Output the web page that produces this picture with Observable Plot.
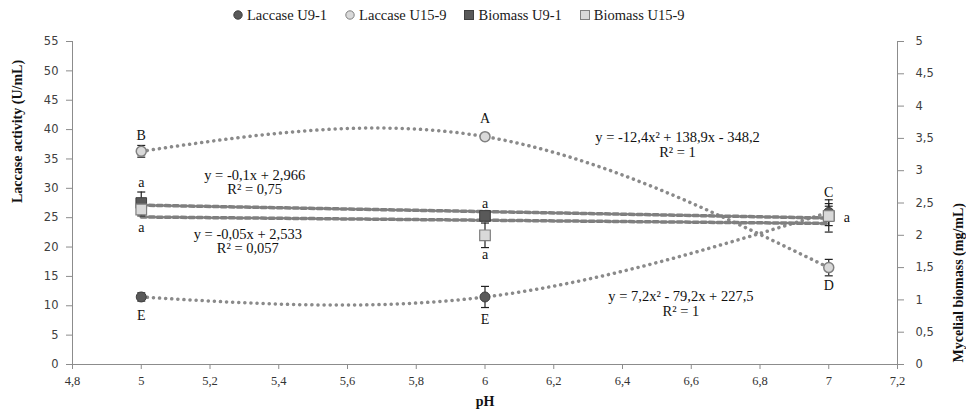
<!DOCTYPE html>
<html>
<head>
<meta charset="utf-8">
<script src="https://cdn.jsdelivr.net/npm/d3@7"></script>
<script src="https://cdn.jsdelivr.net/npm/@observablehq/plot@0.6"></script>
<style>
  html, body { margin: 0; padding: 0; background: #fff; }
  #legend { height: 30px; display: flex; align-items: center; padding-left: 232px; gap: 17px;
    font-family: "Liberation Serif", serif; font-size: 14.5px; color: #1a1a1a; }
  #legend .item { display: flex; align-items: center; gap: 3px; }
  #chart svg { display: block; }
</style>
</head>
<body>
<div id="legend"></div>
<div id="chart"></div>
<script>
// ---- data ----
const pH = [5, 6, 7];
const laccaseU9 = [11.5, 11.5, 25.9];
const laccaseU9Err = [0.7, 1.8, 1.5];
const laccaseU15 = [36.3, 38.8, 16.5];
const laccaseU15Err = [1.0, 0.5, 1.4];
const biomassU9 = [2.5, 2.3, 2.3];
const biomassU9Err = [0.17, 0.05, 0.15];
const biomassU15 = [2.4, 2.0, 2.3];
const biomassU15Err = [0.1, 0.19, 0.25];

const seriesNames = ["Laccase U9-1", "Laccase U15-9", "Biomass U9-1", "Biomass U15-9"];
const xTicks = [4.8, 5, 5.2, 5.4, 5.6, 5.8, 6, 6.2, 6.4, 6.6, 6.8, 7, 7.2];
const leftTicks = [0, 5, 10, 15, 20, 25, 30, 35, 40, 45, 50, 55];
const rightTicks = [0, 0.5, 1, 1.5, 2, 2.5, 3, 3.5, 4, 4.5, 5];

const equations = [
  "y = -12,4x² + 138,9x - 348,2\nR² = 1",
  "y = -0,1x + 2,966\nR² = 0,75",
  "y = -0,05x + 2,533\nR² = 0,057",
  "y = 7,2x² - 79,2x + 227,5\nR² = 1"
];
const letters = ["B", "A", "D", "C", "E", "E", "a", "a", "a", "a", "a"];

// ---- helpers ----
const ratio = 55 / 5; // right axis (biomass) -> left axis units
const comma = v => String(Math.round(v * 100) / 100).replace(".", ",");

const colors = { dark: "#595959", darkStroke: "#3f3f3f", light: "#d9d9d9", lightStroke: "#808080" };

const lacU9 = pH.map((x, i) => ({ x, y: laccaseU9[i], e: laccaseU9Err[i] }));
const lacU15 = pH.map((x, i) => ({ x, y: laccaseU15[i], e: laccaseU15Err[i] }));
const bioU9 = pH.map((x, i) => ({ x, y: biomassU9[i] * ratio, e: biomassU9Err[i] * ratio }));
const bioU15 = pH.map((x, i) => ({ x, y: biomassU15[i] * ratio, e: biomassU15Err[i] * ratio }));
const allErr = [...bioU9, ...bioU15, ...lacU9, ...lacU15];

const eqAnn = [
  { t: equations[0], x: 6.56, y: 37.4 },
  { t: equations[1], x: 5.33, y: 31.0 },
  { t: equations[2], x: 5.31, y: 20.9 },
  { t: equations[3], x: 6.57, y: 10.3 }
];
const letAnn = [
  { t: letters[0], d: lacU15[0], dx: 0, dy: -16 },
  { t: letters[1], d: lacU15[1], dx: 0, dy: -18 },
  { t: letters[2], d: lacU15[2], dx: 0, dy: 18 },
  { t: letters[3], d: lacU9[2], dx: 0, dy: -20 },
  { t: letters[4], d: lacU9[0], dx: 0, dy: 19 },
  { t: letters[5], d: lacU9[1], dx: 0, dy: 23 },
  { t: letters[6], d: bioU9[0], dx: 0, dy: -20 },
  { t: letters[7], d: bioU15[0], dx: 0, dy: 18 },
  { t: letters[8], d: bioU9[1], dx: 0, dy: -12 },
  { t: letters[9], d: bioU15[1], dx: 0, dy: 19 },
  { t: letters[10], d: bioU15[2], dx: 18, dy: 2 }
];

const cap = { draw(ctx) { ctx.moveTo(-4, 0); ctx.lineTo(4, 0); } };
const serif = "Liberation Serif";

const dotted = { stroke: "#8a8a8a", strokeWidth: 3.5, strokeDasharray: "0.1 6", strokeLinecap: "round", curve: "natural" };
const dashed = { stroke: "#7f7f7f", strokeWidth: 3.5, strokeDasharray: "5 3" };

const letterMarks = letAnn.map(a =>
  Plot.text([a], { x: d => d.d.x, y: d => d.d.y, text: "t", dx: a.dx, dy: a.dy, fontSize: 14, fontFamily: serif, fill: "#111" })
);

const chart = Plot.plot({
  width: 966, height: 384,
  marginLeft: 72, marginRight: 69, marginTop: 11, marginBottom: 50,
  x: { domain: [4.8, 7.2] },
  y: { domain: [0, 55] },
  style: { fontFamily: serif, background: "#fff", overflow: "visible" },
  marks: [
    Plot.ruleY([0], { stroke: "#8c8c8c" }),
    Plot.ruleX([4.8], { stroke: "#8c8c8c" }),
    Plot.ruleX([7.2], { stroke: "#8c8c8c" }),
    Plot.axisX(xTicks, { tickSize: 5, tickPadding: 7, fontSize: 12.5, fontFamily: serif, stroke: "#8c8c8c", fill: "#333", tickFormat: comma, label: null }),
    Plot.axisY(leftTicks, { anchor: "left", tickSize: 6, tickPadding: 8, fontSize: 11.5, fontFamily: "DejaVu Sans", stroke: "#8c8c8c", fill: "#404040", tickFormat: comma, label: null }),
    Plot.axisY(rightTicks.map(v => v * ratio), { anchor: "right", tickSize: 6, tickPadding: 12, fontSize: 11.5, fontFamily: "DejaVu Sans", stroke: "#8c8c8c", fill: "#404040", tickFormat: d => comma(d / ratio), label: null }),
    Plot.text(["Laccase activity (U/mL)"], { frameAnchor: "left", dx: -55, rotate: -90, fontSize: 14, fontWeight: "bold", fontFamily: serif, fill: "#111" }),
    Plot.text(["Mycelial biomass (mg/mL)"], { frameAnchor: "right", dx: 61, rotate: -90, fontSize: 14, fontWeight: "bold", fontFamily: serif, fill: "#111" }),
    Plot.text(["pH"], { frameAnchor: "bottom", dy: 41, fontSize: 14, fontWeight: "bold", fontFamily: serif, fill: "#111" }),

    // trend curves
    Plot.line(lacU15, { x: "x", y: "y", ...dotted }),
    Plot.line(lacU9, { x: "x", y: "y", ...dotted }),
    Plot.linearRegressionY(bioU9, { x: "x", y: "y", ci: 0, ...dashed }),
    Plot.linearRegressionY(bioU15, { x: "x", y: "y", ci: 0, ...dashed }),

    // error bars
    Plot.ruleX(allErr, { x: "x", y1: d => d.y - d.e, y2: d => d.y + d.e, stroke: "#222", strokeWidth: 1.2 }),
    Plot.dot(allErr, { x: "x", y: d => d.y - d.e, symbol: cap, stroke: "#222", strokeWidth: 1.2 }),
    Plot.dot(allErr, { x: "x", y: d => d.y + d.e, symbol: cap, stroke: "#222", strokeWidth: 1.2 }),

    // markers
    Plot.dot(lacU9, { x: "x", y: "y", r: 5, fill: colors.dark, stroke: colors.darkStroke, strokeWidth: 1 }),
    Plot.dot(lacU15, { x: "x", y: "y", r: 5, fill: colors.light, stroke: colors.lightStroke, strokeWidth: 1.5 }),
    Plot.dot(bioU9, { x: "x", y: "y", r: 6, symbol: "square", fill: colors.dark, stroke: colors.darkStroke, strokeWidth: 1 }),
    Plot.dot(bioU15, { x: "x", y: "y", r: 6, symbol: "square", fill: colors.light, stroke: colors.lightStroke, strokeWidth: 1.2 }),

    // annotations
    Plot.text(eqAnn, { x: "x", y: "y", text: "t", fontSize: 14.5, lineHeight: 0.98, fontFamily: serif, fill: "#111" }),
    ...letterMarks
  ]
});
document.getElementById("chart").appendChild(chart);

// ---- legend ----
const legend = document.getElementById("legend");
const legendSym = [
  `<circle cx="6" cy="6" r="4.2" fill="${colors.dark}" stroke="${colors.darkStroke}"/>`,
  `<circle cx="6" cy="6" r="4.2" fill="${colors.light}" stroke="${colors.lightStroke}"/>`,
  `<rect x="1.5" y="1.5" width="9" height="9" fill="${colors.dark}" stroke="${colors.darkStroke}"/>`,
  `<rect x="1.5" y="1.5" width="9" height="9" fill="${colors.light}" stroke="${colors.lightStroke}"/>`
];
seriesNames.forEach((name, i) => {
  const item = document.createElement("div");
  item.className = "item";
  item.innerHTML = `<svg width="12" height="12">${legendSym[i]}</svg><span>${name}</span>`;
  legend.appendChild(item);
});
</script>
</body>
</html>
